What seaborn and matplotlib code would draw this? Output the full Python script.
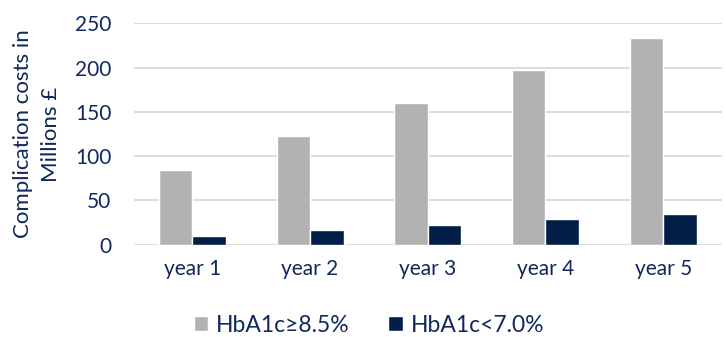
import matplotlib
matplotlib.use("Agg")
import matplotlib.pyplot as plt
import seaborn as sns
import pandas as pd

years = ["year 1", "year 2", "year 3", "year 4", "year 5"]
high_hba1c = [84, 123, 160, 197.5, 233.5]
low_hba1c = [9.5, 16, 22, 29, 35]
series_names = ["HbA1c\u22658.5%", "HbA1c<7.0%"]
y_ticks = [0, 50, 100, 150, 200, 250]

df = pd.DataFrame({
    "year": years * 2,
    "cost": high_hba1c + low_hba1c,
    "group": [series_names[0]] * len(years) + [series_names[1]] * len(years),
})

sns.set_theme(style="white")
plt.rcParams["font.family"] = ["Lato", "DejaVu Sans"]

text_color = "#10285c"
palette = {series_names[0]: "#b1b2b1", series_names[1]: "#001e46"}

fig = plt.figure(figsize=(7.26, 3.37), dpi=100)
ax = fig.add_axes([0.184, 0.274, 0.8105, 0.657])

sns.barplot(data=df, x="year", y="cost", hue="group", palette=palette,
            width=0.57, saturation=1, ax=ax, legend=True)

ax.set_ylim(0, 250)
ax.set_xlim(-0.5, 4.5)
ax.set_yticks(y_ticks)
ax.yaxis.grid(True, color="#d9d9d9", linewidth=1.3)
ax.set_axisbelow(True)
for s in ax.spines.values():
    s.set_visible(False)
ax.tick_params(axis="both", length=0, labelsize=15, labelcolor=text_color)
ax.tick_params(axis="x", pad=10)
ax.tick_params(axis="y", pad=16)
ax.set_xlabel("")
ax.set_ylabel("Complication costs in\nMillions \u00a3", fontsize=16,
              color=text_color, labelpad=10, linespacing=1.5)

handles, labels = ax.get_legend_handles_labels()
ax.legend_.remove()
fig.legend(handles, labels, loc="center", bbox_to_anchor=(0.508, 0.035),
           ncol=2, frameon=False, fontsize=16.5, labelcolor=text_color,
           handlelength=0.62, handleheight=0.62, handletextpad=0.35,
           columnspacing=1.7)

fig.savefig("out.png", dpi=100)
